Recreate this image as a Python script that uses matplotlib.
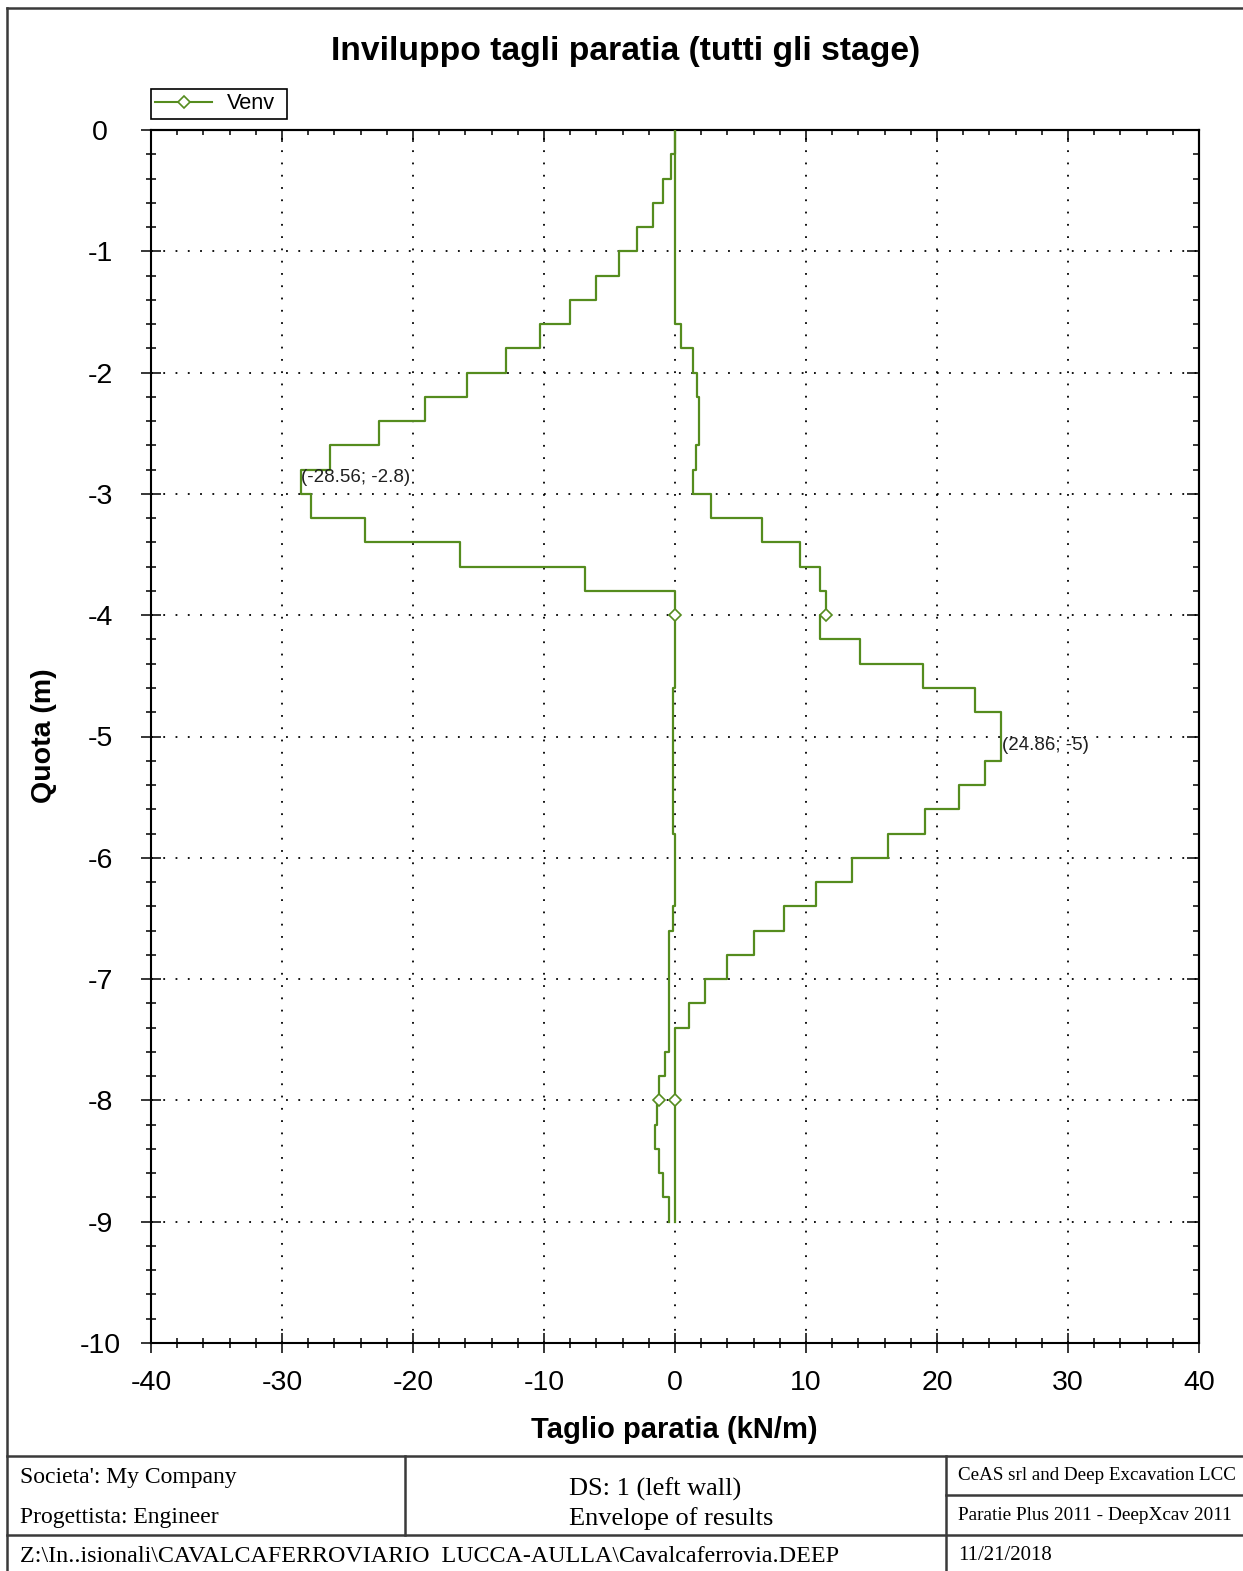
import numpy as np
import matplotlib
matplotlib.use("Agg")
import matplotlib.pyplot as plt
from matplotlib.ticker import MultipleLocator, FixedLocator
from matplotlib.lines import Line2D

plt.rcParams['axes.unicode_minus'] = False
plt.rcParams['font.family'] = ['Liberation Sans', 'DejaVu Sans']

# ---------------- data ----------------
depth_top = 0.0
depth_bottom = -9.0
depth_step = 0.2

# envelope of shear (kN/m) per 0.2 m interval, from top (0 m) to bottom (-9 m)
v_min = [0.0, -0.33, -0.92, -1.69, -2.91, -4.27, -6.0, -8.0, -10.3, -12.9,
         -15.85, -19.07, -22.6, -26.3, -28.56, -27.8, -23.7, -16.4, -6.9, 0.0,
         0.0, 0.0, 0.0, -0.15, -0.15, -0.15, -0.15, -0.15, -0.15, 0.0,
         0.0, 0.0, -0.15, -0.46, -0.46, -0.46, -0.46, -0.46, -0.77, -1.23,
         -1.4, -1.56, -1.23, -0.92, -0.46]
v_max = [0.0, 0.0, 0.0, 0.0, 0.0, 0.0, 0.0, 0.0, 0.45, 1.40,
         1.68, 1.84, 1.84, 1.59, 1.40, 2.78, 6.65, 9.56, 11.1, 11.56,
         11.1, 14.16, 18.92, 22.93, 24.86, 24.86, 23.7, 21.7, 19.05, 16.29,
         13.53, 10.79, 8.31, 6.01, 3.96, 2.30, 1.07, 0.0, 0.0, 0.0,
         0.0, 0.0, 0.0, 0.0, 0.0]

marker_depths = [-4.0, -8.0]
peak_points = [(-28.56, -2.8), (24.86, -5.0)]
peak_texts = ["(-28.56; -2.8)", "(24.86; -5)"]

x_ticks = [-40, -30, -20, -10, 0, 10, 20, 30, 40]
y_ticks = [0, -1, -2, -3, -4, -5, -6, -7, -8, -9, -10]
series_label = "Venv"

title = "Inviluppo tagli paratia (tutti gli stage)"
xlabel = "Taglio paratia (kN/m)"
ylabel = "Quota (m)"

# ---------------- figure ----------------
W, H = 1243, 1571
fig = plt.figure(figsize=(W / 100, H / 100), dpi=100)

green = '#558c1e'

# overlay for frame/title block (pixel coordinates)
bg = fig.add_axes([0, 0, 1, 1], zorder=0)
bg.set_xlim(0, W)
bg.set_ylim(H, 0)
bg.axis('off')
lc = '#3a3a3a'
lw = 1.8
bg.plot([7, 7], [8, H], color=lc, lw=lw)
bg.plot([7, W], [8, 8], color=lc, lw=lw)
bg.plot([7, W], [1456, 1456], color=lc, lw=lw)
bg.plot([7, W], [1535, 1535], color=lc, lw=lw)
bg.plot([946, W], [1495, 1495], color=lc, lw=lw)
bg.plot([405, 405], [1456, 1535], color=lc, lw=lw)
bg.plot([946, 946], [1456, H], color=lc, lw=lw)

serif = ['Liberation Serif', 'DejaVu Serif']
bg.text(20, 1478, "Societa': My Company", family=serif, fontsize=17, va='center', ha='left')
bg.text(20, 1518, "Progettista: Engineer", family=serif, fontsize=17, va='center', ha='left')
bg.text(569, 1489, "DS: 1 (left wall)", family=serif, fontsize=19, va='center', ha='left')
bg.text(569, 1519, "Envelope of results", family=serif, fontsize=19, va='center', ha='left')
bg.text(958, 1476, "CeAS srl and Deep Excavation LCC", family=serif, fontsize=13.7, va='center', ha='left')
bg.text(958, 1516, "Paratie Plus 2011 - DeepXcav 2011", family=serif, fontsize=13.9, va='center', ha='left')
bg.text(20, 1556, r"Z:\In..isionali\CAVALCAFERROVIARIO  LUCCA-AULLA\Cavalcaferrovia.DEEP",
        family=serif, fontsize=17.3, va='center', ha='left')
bg.text(958, 1556, "11/21/2018", family=serif, fontsize=15, va='center', ha='left')

# titles
bg.text(626, 60, title, fontsize=24.2, fontweight='bold', ha='center', va='baseline')
bg.text(674, 1438, xlabel, fontsize=21, fontweight='bold', ha='center', va='baseline')
bg.text(44, 736, ylabel, fontsize=20.5, fontweight='bold', ha='center', va='center', rotation=90)

# main axes
L, R, T, B = 151, 1199, 130, 1343
ax = fig.add_axes([L / W, 1 - B / H, (R - L) / W, (B - T) / H], zorder=2)
ax.set_xlim(-40, 40)
ax.set_ylim(-10, 0)

edges = np.linspace(depth_top, depth_bottom, len(v_min) + 1)
ys = np.repeat(edges, 2)[1:-1]
for vals in (v_min, v_max):
    xs = np.repeat(np.asarray(vals), 2)
    ax.plot(xs, ys, color=green, lw=1.6, zorder=3)
    mx, my = [], []
    for d in marker_depths:
        i = int(round((depth_top - d) / depth_step)) - 1
        mx.append(vals[i])
        my.append(d)
    ax.plot(mx, my, linestyle='none', marker='D', ms=6.5, mfc='white',
            mec=green, mew=1.2, zorder=4)

offsets = [(0, -5.3), (1, -6.6)]
for (px, py), txt, off in zip(peak_points, peak_texts, offsets):
    ax.annotate(txt, xy=(px, py), xytext=off, textcoords='offset points',
                ha='left', va='center', fontsize=13.5, color='#202020', zorder=5)

ax.xaxis.set_major_locator(FixedLocator(x_ticks))
ax.yaxis.set_major_locator(FixedLocator(y_ticks))
ax.xaxis.set_minor_locator(MultipleLocator(2))
ax.yaxis.set_minor_locator(MultipleLocator(0.2))
ax.set_xticklabels([str(v) for v in x_ticks])
ax.set_yticklabels([str(v) for v in y_ticks], ha='center')

ax.grid(which='major', color='black', linestyle=(0, (1, 5.8)), linewidth=1.3, zorder=1)
ax.set_axisbelow(True)
for s in ax.spines.values():
    s.set_linewidth(1.5)
    s.set_color('black')

ax.tick_params(axis='both', which='major', direction='inout', length=14.4, width=1.1,
               labelsize=20.5, top=False, right=False, colors='black')
ax.tick_params(axis='both', which='minor', direction='inout', length=7.2, width=1.1,
               top=False, right=False)
ax.tick_params(axis='y', which='major', pad=29.5)
ax.tick_params(axis='x', which='major', pad=12.5)

secx = ax.secondary_xaxis('top')
secx.xaxis.set_major_locator(FixedLocator(x_ticks))
secx.xaxis.set_minor_locator(MultipleLocator(2))
secx.tick_params(which='major', direction='in', length=8.6, width=1.1, labeltop=False)
secx.tick_params(which='minor', direction='in', length=3.6, width=1.1)
secx.spines['top'].set_linewidth(1.5)

secy = ax.secondary_yaxis('right')
secy.yaxis.set_major_locator(FixedLocator(y_ticks))
secy.yaxis.set_minor_locator(MultipleLocator(0.2))
secy.tick_params(which='major', direction='in', length=8.6, width=1.1, labelright=False)
secy.tick_params(which='minor', direction='in', length=4.5, width=1.1)
secy.spines['right'].set_linewidth(1.5)

handle = Line2D([], [], color=green, lw=1.5, marker='D', ms=6.5, mfc='white', mec=green, mew=1.2)
leg = fig.legend([handle], [series_label], loc='upper left', mode='expand',
                 bbox_to_anchor=(L / W, 1 - 116 / H, 136 / W, 27 / H), borderaxespad=0,
                 fontsize=15.7, handlelength=2.6, handletextpad=0.7, borderpad=0.2,
                 fancybox=False, framealpha=1, edgecolor='black')
leg.get_frame().set_linewidth(1.2)

fig.savefig("out.png", dpi=100)
